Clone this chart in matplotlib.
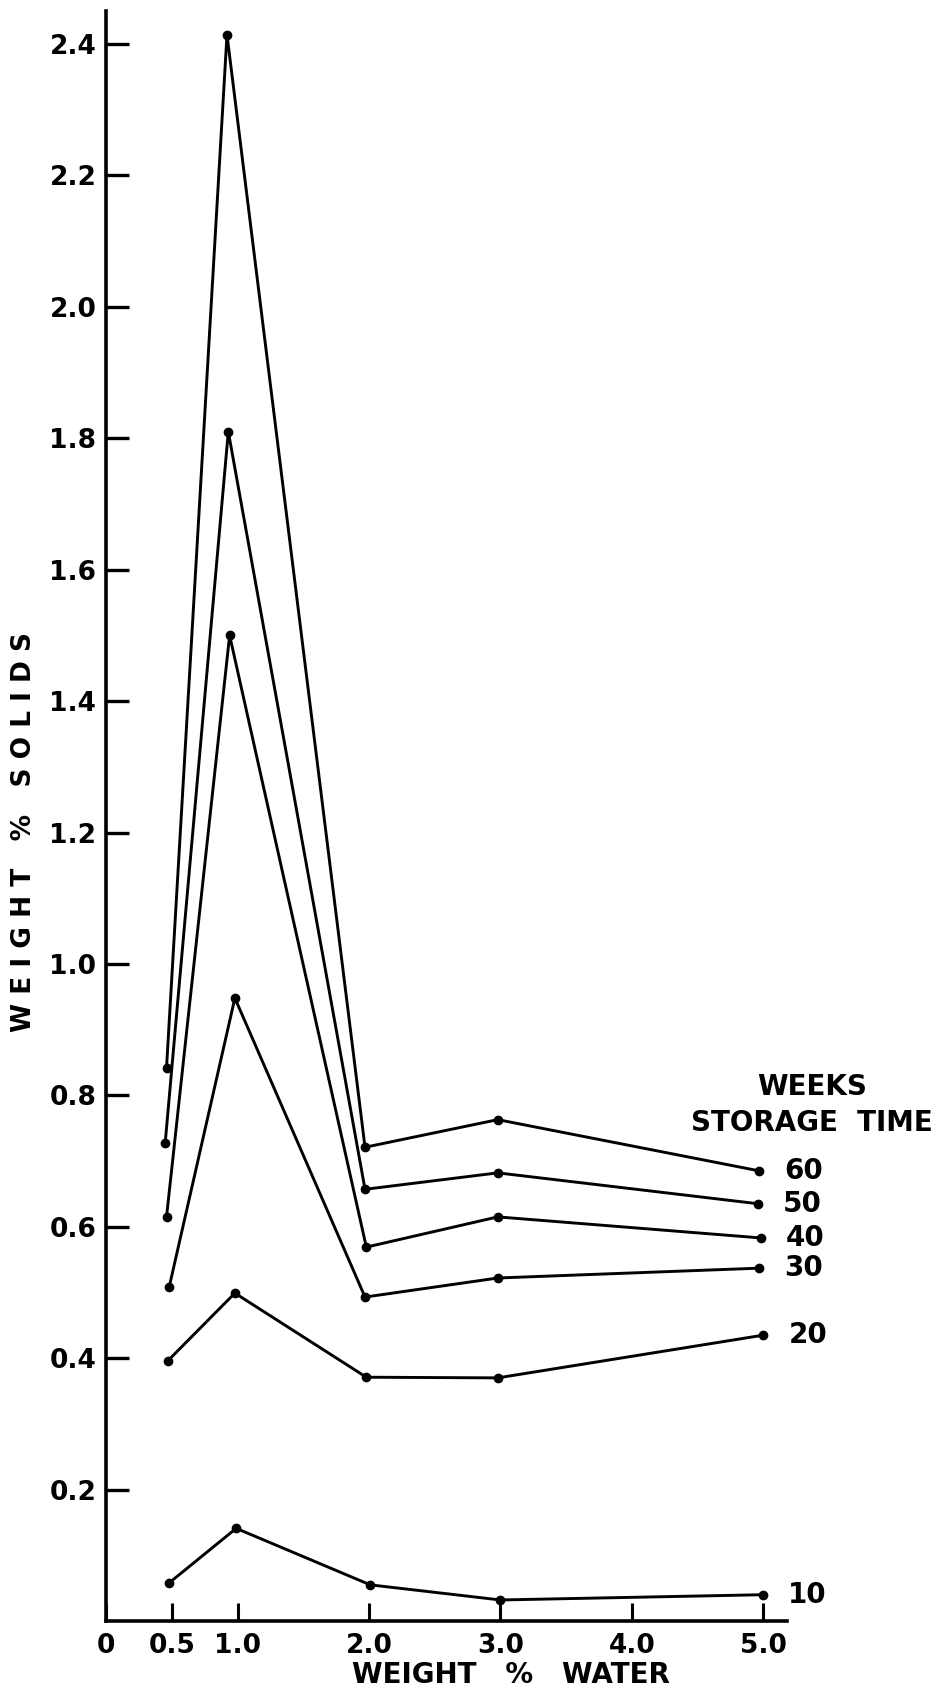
import matplotlib
matplotlib.use('Agg')
import matplotlib.pyplot as plt

# values (x = weight % water, y = weight % solids)
weeks = ['60', '50', '40', '30', '20', '10']

water_60 = [0.46, 0.92, 1.97, 2.98, 4.97]
solids_60 = [0.842, 2.414, 0.721, 0.763, 0.685]

water_50 = [0.45, 0.93, 1.97, 2.98, 4.96]
solids_50 = [0.728, 1.81, 0.657, 0.682, 0.635]

water_40 = [0.46, 0.94, 1.98, 2.98, 4.98]
solids_40 = [0.615, 1.50, 0.569, 0.615, 0.583]

water_30 = [0.48, 0.98, 1.97, 2.98, 4.97]
solids_30 = [0.508, 0.948, 0.493, 0.522, 0.537]

water_20 = [0.47, 0.98, 1.98, 2.98, 5.0]
solids_20 = [0.396, 0.499, 0.371, 0.370, 0.435]

water_10 = [0.48, 0.99, 2.01, 3.0, 5.0]
solids_10 = [0.058, 0.141, 0.055, 0.032, 0.040]

x_ticks = [0, 0.5, 1.0, 2.0, 3.0, 4.0, 5.0]
x_labels = ['0', '0.5', '1.0', '2.0', '3.0', '4.0', '5.0']
y_ticks = [0.2, 0.4, 0.6, 0.8, 1.0, 1.2, 1.4, 1.6, 1.8, 2.0, 2.2, 2.4]
y_labels = ['0.2', '0.4', '0.6', '0.8', '1.0', '1.2', '1.4', '1.6', '1.8', '2.0', '2.2', '2.4']

waters = [water_60, water_50, water_40, water_30, water_20, water_10]
solids = [solids_60, solids_50, solids_40, solids_30, solids_20, solids_10]

plt.rcParams['font.family'] = ['DejaVu Sans']

fig = plt.figure(figsize=(9.47, 16.91), dpi=100)
ax = fig.add_axes([0.112, 0.0414, 0.719, 0.952])

for w, x, y in zip(weeks, waters, solids):
    ax.plot(x, y, color='black', lw=2.1, marker='o', ms=6)
    ax.annotate(w, (x[-1], y[-1]), xytext=(18, 0), textcoords='offset points',
                va='center', ha='left', fontsize=20, fontweight='bold')

ax.text(5.37, 0.813, 'WEEKS', ha='center', va='center', fontsize=20,
        fontweight='bold', clip_on=False)
ax.text(5.37, 0.758, 'STORAGE  TIME', ha='center', va='center', fontsize=20,
        fontweight='bold', clip_on=False)

ax.set_xlim(0, 5.18)
ax.set_ylim(0, 2.45)
ax.set_xticks(x_ticks)
ax.set_xticklabels(x_labels)
ax.set_yticks(y_ticks)
ax.set_yticklabels(y_labels)

for s in ['top', 'right']:
    ax.spines[s].set_visible(False)
for s in ['left', 'bottom']:
    ax.spines[s].set_linewidth(2.6)

ax.tick_params(axis='y', direction='in', length=16.5, width=2.4, pad=7, labelsize=19)
ax.tick_params(axis='x', direction='in', length=13, width=2.2, pad=9, labelsize=19)
for t in ax.get_xticklabels() + ax.get_yticklabels():
    t.set_fontweight('bold')

fig.text(511 / 947, 1 - 1675 / 1691, 'WEIGHT   %   WATER', ha='center', va='center',
         fontsize=20, fontweight='bold')
fig.text(24 / 947, 1 - 832 / 1691, 'W E I G H T   %   S O L I D S', rotation=90,
         ha='center', va='center', fontsize=19, fontweight='bold')

fig.savefig('out.png', dpi=100)
